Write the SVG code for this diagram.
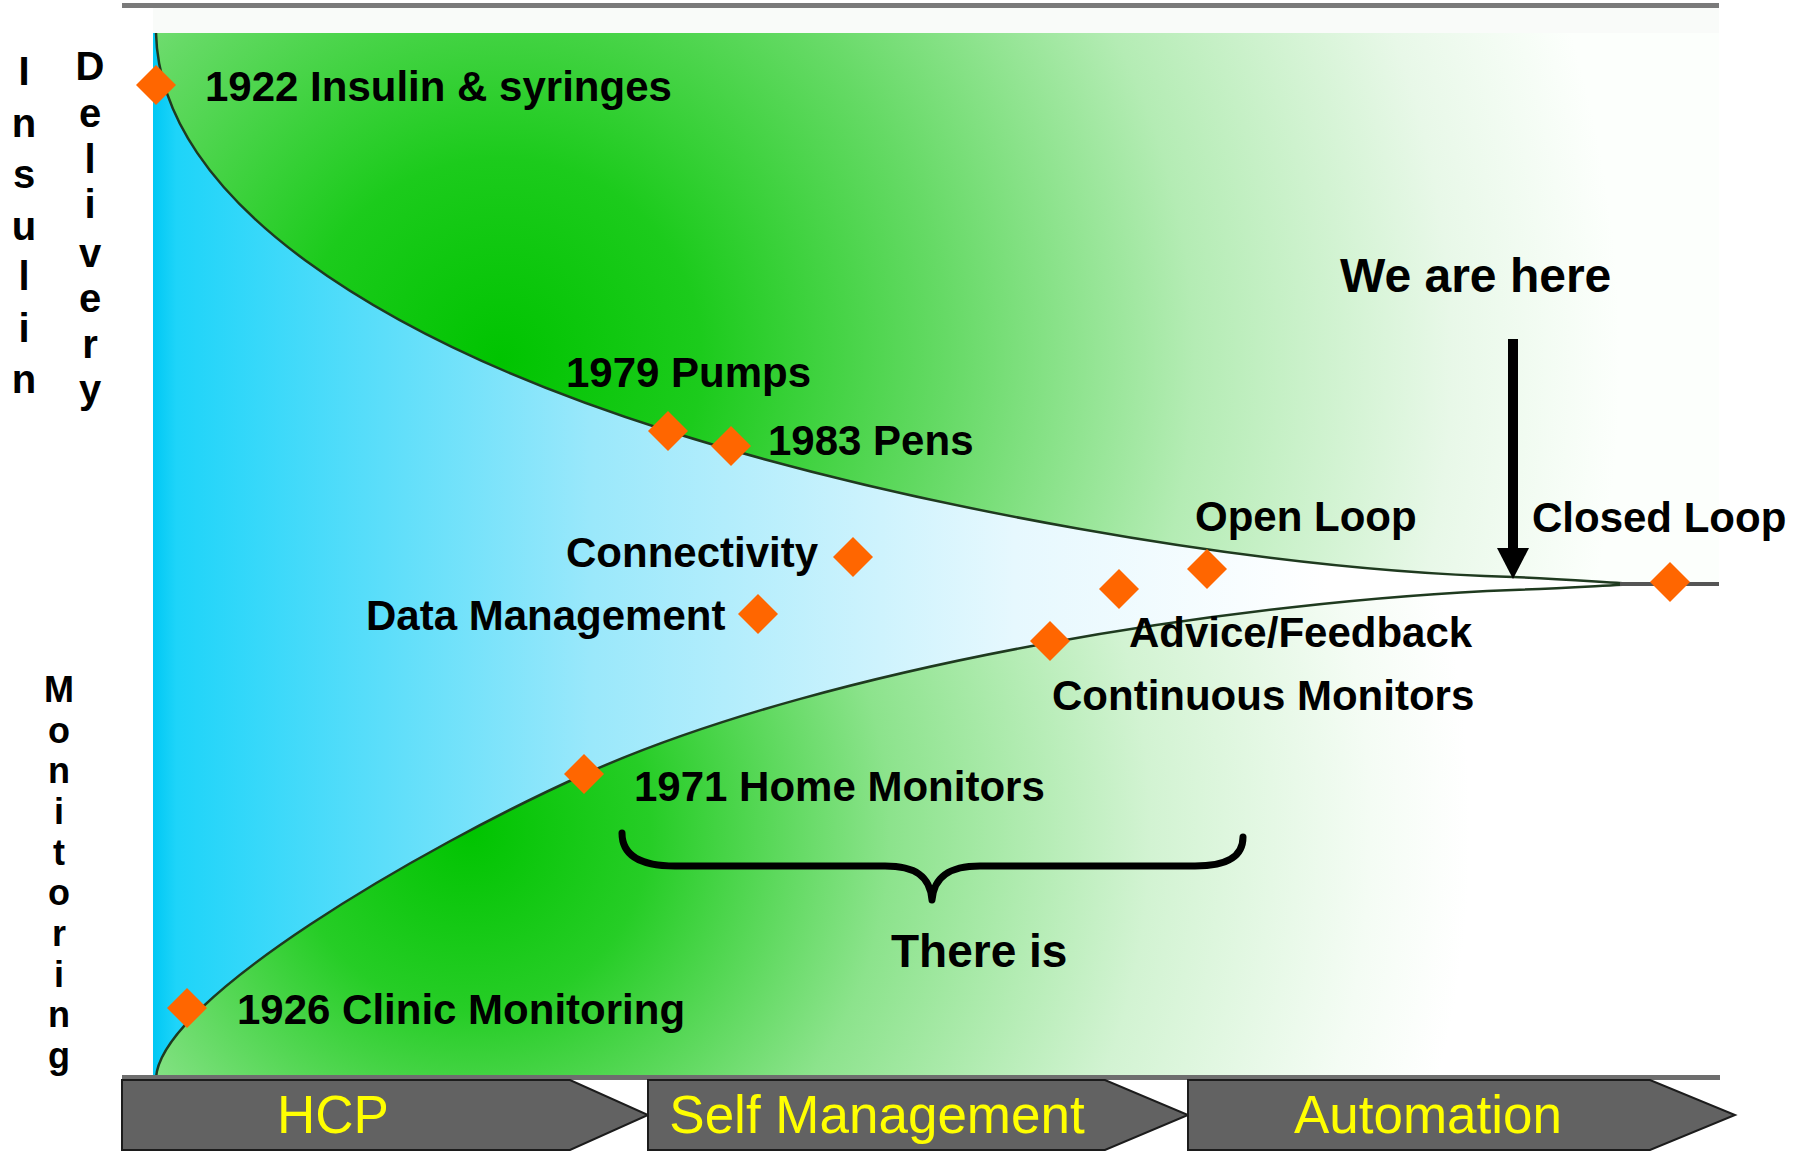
<svg xmlns="http://www.w3.org/2000/svg" width="1803" height="1152" viewBox="0 0 1803 1152">
<style>
  .lbl { font-family: "Liberation Sans", Arial, sans-serif; font-weight: bold; font-size: 42px; fill: #000; }
  .vert { font-family: "Liberation Sans", Arial, sans-serif; font-weight: bold; font-size: 40px; fill: #000; text-anchor: middle; }
  .phase { font-family: "Liberation Sans", Arial, sans-serif; font-size: 53px; fill: #FFFF00; text-anchor: middle; }
  .chev { fill: #626262; stroke: #1c1c1c; stroke-width: 2; }
  .curve { fill: none; stroke: #1f3a1f; stroke-width: 2.5; }
  .dia { fill: #FF6600; }
</style>
<defs>
  <linearGradient id="blueGrad" gradientUnits="userSpaceOnUse" x1="153" y1="0" x2="1719" y2="0">
    <stop offset="0" stop-color="#00C8F4"/>
    <stop offset="0.015" stop-color="#1ED4F9"/>
    <stop offset="0.28" stop-color="#9AE8FB"/>
    <stop offset="0.55" stop-color="#E6F8FE"/>
    <stop offset="0.75" stop-color="#FFFFFF"/>
    <stop offset="1" stop-color="#FFFFFF"/>
  </linearGradient>
  <radialGradient id="greenTop" gradientUnits="userSpaceOnUse" cx="500" cy="360" r="1120">
    <stop offset="0" stop-color="#00C400"/>
    <stop offset="0.18" stop-color="#1CCB1C"/>
    <stop offset="0.4" stop-color="#66DA66"/>
    <stop offset="0.62" stop-color="#B4ECB4"/>
    <stop offset="0.85" stop-color="#E8F8E8"/>
    <stop offset="1" stop-color="#FCFFFC"/>
  </radialGradient>
  <radialGradient id="greenBot" gradientUnits="userSpaceOnUse" cx="470" cy="830" r="1000">
    <stop offset="0" stop-color="#00C400"/>
    <stop offset="0.18" stop-color="#26CD26"/>
    <stop offset="0.42" stop-color="#8CE38C"/>
    <stop offset="0.68" stop-color="#D2F3D2"/>
    <stop offset="0.9" stop-color="#F4FCF4"/>
    <stop offset="1" stop-color="#FFFFFF"/>
  </radialGradient>
  <polygon id="diamond" class="dia" points="0,-20 20,0 0,20 -20,0"/>
</defs>

<!-- background -->
<rect x="0" y="0" width="1803" height="1152" fill="#FFFFFF"/>
<rect x="122" y="7" width="1597" height="1071" fill="#F9FBF9"/>
<rect x="122" y="7" width="31" height="1071" fill="#FFFFFF"/>
<rect x="153" y="33" width="1566" height="1045" fill="url(#blueGrad)"/>

<!-- green regions -->
<path id="greenUpper" d="M 156,33 C 160,200 380,340 668,431 C 900,504 1250,570 1513,577 C 1570,579 1610,583 1640,584 L 1719,584 L 1719,33 Z" fill="url(#greenTop)"/>
<path id="greenLower" d="M 156,1078 C 160,1000 420,848 585,774 C 835,662 1250,600 1513,590 C 1570,588 1610,585 1640,584 L 1719,584 L 1719,1078 Z" fill="url(#greenBot)"/>
<path class="curve" d="M 156,33 C 160,200 380,340 668,431 C 900,504 1250,570 1513,577 C 1570,579 1610,583 1640,584"/>
<path class="curve" d="M 156,1078 C 160,1000 420,848 585,774 C 835,662 1250,600 1513,590 C 1570,588 1610,585 1640,584"/>
<line x1="1620" y1="584" x2="1719" y2="584" stroke="#555" stroke-width="4"/>

<!-- frame lines -->
<rect x="122" y="3" width="1597" height="5" fill="#7A7A7A"/>
<rect x="122" y="1075" width="1598" height="5" fill="#6E6E6E"/>

<!-- phase chevrons -->
<g id="phase-hcp">
  <polygon class="chev" points="122,1080 570,1080 648,1115 570,1150 122,1150"/>
  <text class="phase" x="333" y="1133">HCP</text>
</g>
<g id="phase-self">
  <polygon class="chev" points="648,1080 1105,1080 1188,1115 1105,1150 648,1150"/>
  <text class="phase" x="877" y="1133">Self Management</text>
</g>
<g id="phase-auto">
  <polygon class="chev" points="1188,1080 1650,1080 1735,1115 1650,1150 1188,1150"/>
  <text class="phase" x="1428" y="1133">Automation</text>
</g>

<!-- side labels -->
<g id="label-insulin">
  <text class="vert"><tspan x="24" y="85">I</tspan><tspan x="24" y="137">n</tspan><tspan x="24" y="188">s</tspan><tspan x="24" y="240">u</tspan><tspan x="24" y="290">l</tspan><tspan x="24" y="342">i</tspan><tspan x="24" y="393">n</tspan></text>
</g>
<g id="label-delivery">
  <text class="vert"><tspan x="90" y="80">D</tspan><tspan x="90" y="127">e</tspan><tspan x="90" y="173">l</tspan><tspan x="90" y="218">i</tspan><tspan x="90" y="267">v</tspan><tspan x="90" y="312">e</tspan><tspan x="90" y="358">r</tspan><tspan x="90" y="403">y</tspan></text>
</g>
<g id="label-monitoring">
  <text class="vert" style="font-size:36px"><tspan x="59" y="702">M</tspan><tspan x="59" y="743">o</tspan><tspan x="59" y="783">n</tspan><tspan x="59" y="824">i</tspan><tspan x="59" y="865">t</tspan><tspan x="59" y="905">o</tspan><tspan x="59" y="946">r</tspan><tspan x="59" y="987">i</tspan><tspan x="59" y="1027">n</tspan><tspan x="59" y="1068">g</tspan></text>
</g>

<!-- connectors -->
<g id="connectors">
  <g id="arrow-we-are-here">
    <rect x="1508" y="339" width="10" height="212" fill="#000"/>
    <polygon points="1497,548 1529,548 1513,579" fill="#000"/>
  </g>
  <path id="brace" d="M 622,833 C 622,858 645,866 675,866 L 885,866 C 915,866 930,876 932,900 C 934,876 950,866 980,866 L 1195,866 C 1225,866 1243,858 1243,837" fill="none" stroke="#000" stroke-width="7" stroke-linecap="round" stroke-linejoin="round"/>
</g>

<!-- nodes -->
<g id="node-1922"><use href="#diamond" x="156" y="85"/><text class="lbl" x="205" y="101">1922 Insulin &amp; syringes</text></g>
<g id="node-1979"><use href="#diamond" x="668" y="431"/><text class="lbl" x="566" y="387">1979 Pumps</text></g>
<g id="node-1983"><use href="#diamond" x="731" y="446"/><text class="lbl" x="768" y="455">1983 Pens</text></g>
<g id="node-connectivity"><use href="#diamond" x="853" y="557"/><text class="lbl" x="566" y="567">Connectivity</text></g>
<g id="node-data"><use href="#diamond" x="758" y="614"/><text class="lbl" x="366" y="630">Data Management</text></g>
<g id="node-open-loop"><use href="#diamond" x="1207" y="569"/><text class="lbl" x="1195" y="531">Open Loop</text></g>
<g id="node-advice"><use href="#diamond" x="1119" y="589"/><text class="lbl" x="1129" y="647">Advice/Feedback</text></g>
<g id="node-continuous"><use href="#diamond" x="1050" y="641"/><text class="lbl" x="1052" y="710">Continuous Monitors</text></g>
<g id="node-closed-loop"><use href="#diamond" x="1670" y="582"/><text class="lbl" x="1532" y="532">Closed Loop</text></g>
<g id="node-1971"><use href="#diamond" x="584" y="774"/><text class="lbl" x="634" y="801">1971 Home Monitors</text></g>
<g id="node-1926"><use href="#diamond" x="187" y="1008"/><text class="lbl" x="237" y="1024">1926 Clinic Monitoring</text></g>
<g id="label-we-are-here"><text class="lbl" x="1340" y="292" style="font-size:48px">We are here</text></g>
<g id="label-there-is"><text class="lbl" x="891" y="967" style="font-size:46px">There is</text></g>
</svg>
